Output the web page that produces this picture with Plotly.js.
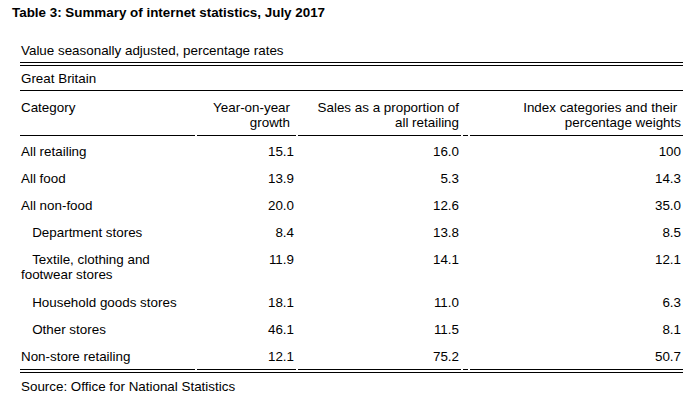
<!DOCTYPE html>
<html>
<head>
<meta charset="utf-8">
<script src="https://cdn.plot.ly/plotly-3.0.1.min.js"></script>
<style>html,body{margin:0;padding:0;background:#fff;}#chart{width:700px;height:400px;}</style>
</head>
<body>
<div id="chart"></div>
<script>
// ---- data ----
var tableTitle = 'Table 3: Summary of internet statistics, July 2017';
var unitNote = 'Value seasonally adjusted, percentage rates';
var geography = 'Great Britain';
var sourceNote = 'Source: Office for National Statistics';
var headerLabels = ['Category', 'Year-on-year<br>growth', 'Sales as a proportion of<br>all retailing', 'Index categories and their\u00a0<br>percentage weights'];
var categories = [
  'All retailing',
  'All food',
  'All non-food',
  '\u00a0\u00a0\u00a0Department stores',
  '\u00a0\u00a0\u00a0Textile, clothing and<br>footwear stores',
  '\u00a0\u00a0\u00a0Household goods stores',
  '\u00a0\u00a0\u00a0Other stores',
  'Non-store retailing'
];
var yoyGrowth = [15.1, 13.9, 20.0, 8.4, 11.9, 18.1, 46.1, 12.1];
var salesShare = [16.0, 5.3, 12.6, 13.8, 14.1, 11.0, 11.5, 75.2];
var indexWeights = [100, 14.3, 35.0, 8.5, 12.1, 6.3, 8.1, 50.7];

// ---- layout constants (pixel space) ----
var W = 700, H = 400;
var FS = 13.4;
var FONT = {family: 'Liberation Sans, Arial, sans-serif', size: FS, color: '#000'};
var leftX = 21;
var valueRight = [294, 459, 681];
var headerRight = [290, 459, 681];
var firstRowY = 151, rowStep = 27, extraLine = 16;
var lineStep = 15.5;
var headerY = 107;
var textOff = 5.3; // from visual centre of first line to anchor point

function fmt(v) { return (Number.isInteger(v) && v >= 100) ? String(v) : v.toFixed(1); }

var rowY = [];
var yy = firstRowY;
for (var i = 0; i < categories.length; i++) {
  rowY.push(yy);
  var lines = categories[i].split('<br>').length;
  yy += rowStep + (lines - 1) * extraLine;
}

// split multi-line labels into separate text points, one per line
function txt(xs, ys, texts, pos) {
  var X = [], Y = [], T = [];
  texts.forEach(function (t, k) {
    t.split('<br>').forEach(function (line, j) {
      X.push(xs[k]); Y.push(ys[k] + j * lineStep - textOff); T.push(line);
    });
  });
  return {
    type: 'scatter', mode: 'text', x: X, y: Y,
    text: T, textposition: pos, textfont: FONT, hoverinfo: 'skip', showlegend: false, cliponaxis: false
  };
}

var traces = [];
// notes
traces.push(txt([leftX, leftX, leftX], [50, 78, 386], [unitNote, geography, sourceNote], 'bottom right'));
// header
traces.push(txt([leftX], [headerY], [headerLabels[0]], 'bottom right'));
traces.push(txt(headerRight, [headerY, headerY, headerY], headerLabels.slice(1), 'bottom left'));
// body
traces.push(txt(rowY.map(function () { return leftX; }), rowY, categories, 'bottom right'));
[yoyGrowth, salesShare, indexWeights].forEach(function (col, c) {
  traces.push(txt(rowY.map(function () { return valueRight[c]; }), rowY, col.map(fmt), 'bottom left'));
});

// rules
var colEdges = [20, 196, 297, 462, 469, 683];
var shapes = [];
function hline(x0, x1, y) {
  shapes.push({type: 'line', xref: 'x', yref: 'y', x0: x0, x1: x1, y0: y + 0.5, y1: y + 0.5, line: {color: '#000', width: 1}});
}
function segLine(y) {
  for (var k = 0; k < colEdges.length - 1; k++) {
    hline(colEdges[k] + (k ? 1 : 0), colEdges[k + 1] - (k < colEdges.length - 2 ? 1 : 0), y);
  }
}
hline(20, 683, 62);
hline(20, 683, 65);
hline(20, 683, 90);
segLine(135);
segLine(369);
hline(20, 683, 372);

var layout = {
  width: W, height: H,
  margin: {l: 0, r: 0, t: 0, b: 0},
  paper_bgcolor: '#fff', plot_bgcolor: '#fff',
  title: {text: tableTitle, font: {family: FONT.family, size: FS, color: '#000', weight: 'bold'},
          x: 12 / W, xanchor: 'left', xref: 'container', y: 1 - 12 / H, yanchor: 'middle', yref: 'container'},
  xaxis: {range: [0, W], visible: false, fixedrange: true},
  yaxis: {range: [H, 0], visible: false, fixedrange: true},
  shapes: shapes,
  showlegend: false
};

Plotly.newPlot('chart', traces, layout, {staticPlot: true, displayModeBar: false});
</script>
</body>
</html>
